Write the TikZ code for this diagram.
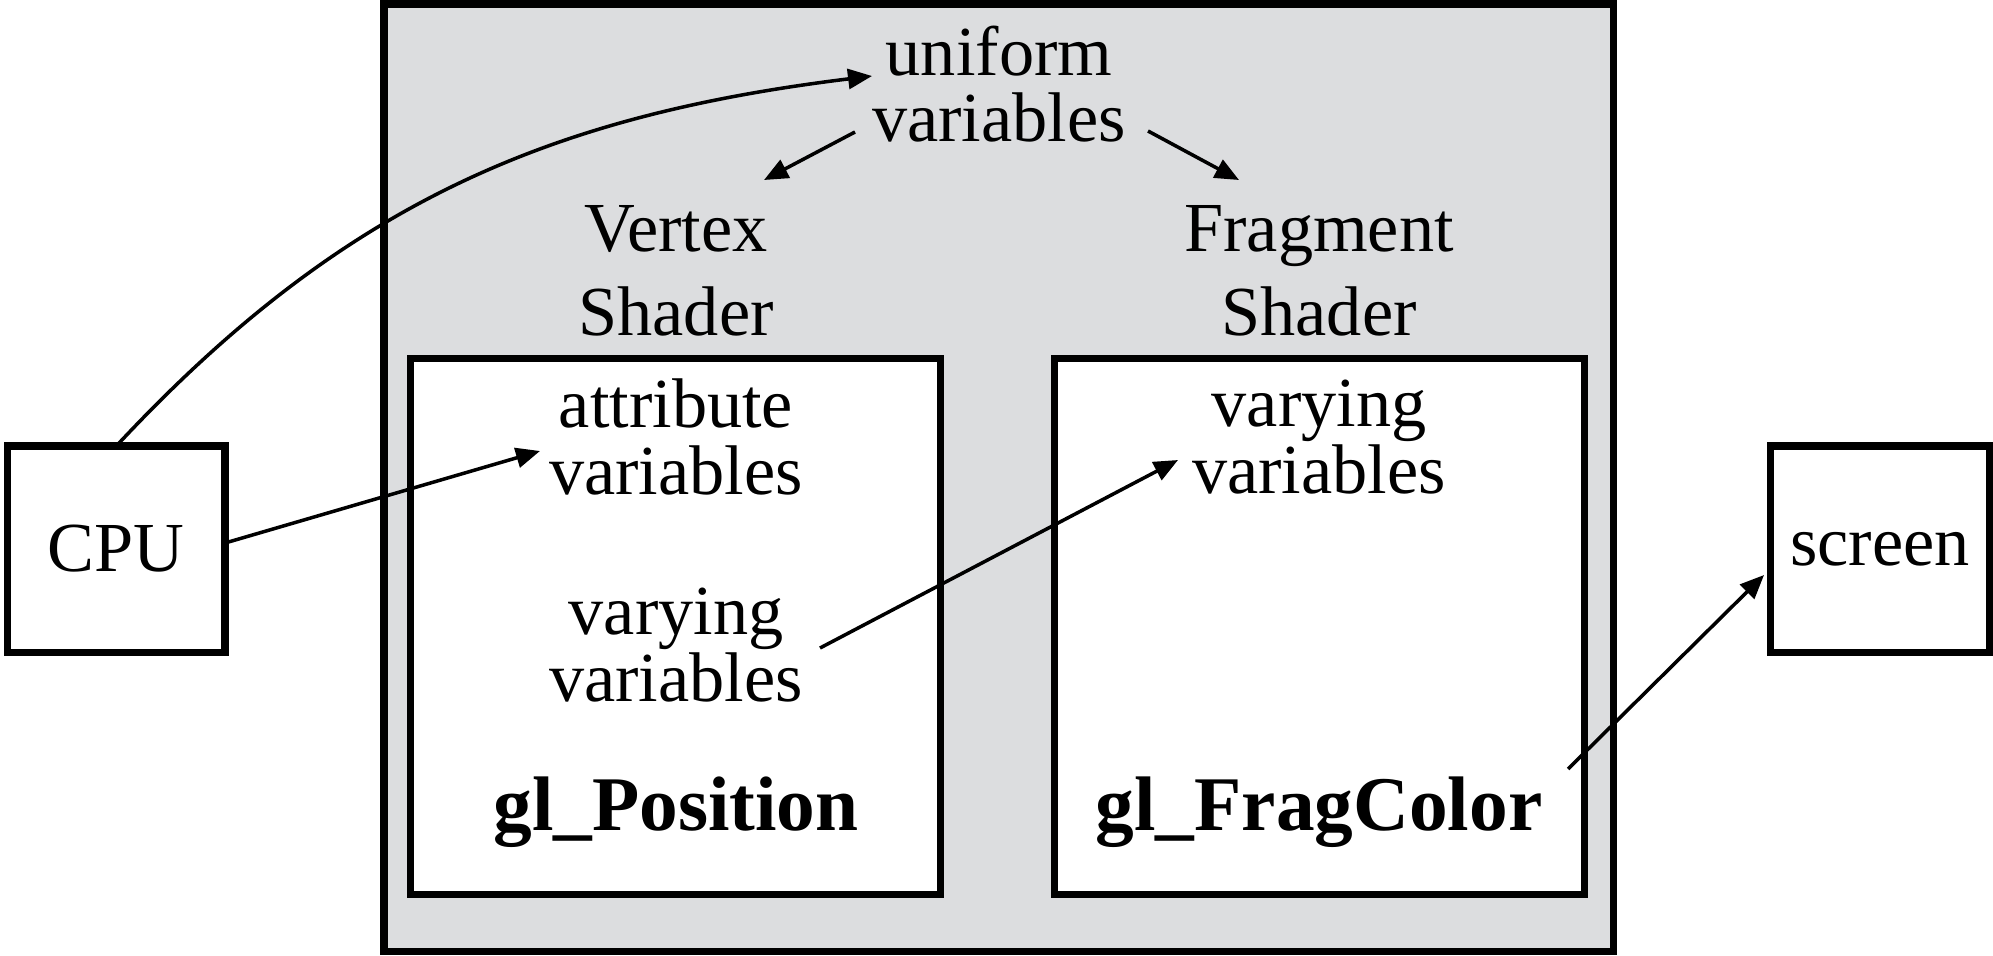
\documentclass[tikz,border=0pt]{standalone}
\usepackage{fontspec}
\setmainfont{Liberation Serif}
\usetikzlibrary{arrows.meta}
\definecolor{shadegray}{RGB}{220,221,223}
\begin{document}
\begin{tikzpicture}[x=1cm,y=1cm,
  box/.style={draw=black, line width=2pt, rectangle, inner sep=0pt, outer sep=0pt},
  lbl/.style={align=center, inner sep=0pt, font=\fontsize{20}{19}\selectfont},
  boldlbl/.style={inner sep=0pt, font=\fontsize{22}{22}\selectfont\bfseries},
  arr/.style={-{Triangle[length=2.4mm,width=2mm]}, line width=1pt},
]
\useasboundingbox (0,0) rectangle (19.93,-9.55);
% boxes
\node[box, fill=shadegray, minimum width=12.29cm, minimum height=9.47cm] (outer) at (9.985,-4.775) {};
\node[box, fill=white, minimum width=5.30cm, minimum height=5.364cm] (vbox) at (6.7555,-6.266) {};
\node[box, fill=white, minimum width=5.30cm, minimum height=5.364cm] (fbox) at (13.199,-6.266) {};
\node[box, fill=white, minimum width=2.174cm, minimum height=2.06cm, font=\fontsize{20}{19}\selectfont] (cpu) at (1.163,-5.49) {CPU};
\node[box, fill=white, minimum width=2.185cm, minimum height=2.06cm, font=\fontsize{20}{19}\selectfont] (scr) at (18.80,-5.49) {screen};
% labels
\node[lbl] (uni) at (9.99,-0.84) {uniform\\variables};
\node[lbl] (vs) at (6.76,-2.71) {Vertex\\[5pt]Shader};
\node[lbl] (fs) at (13.19,-2.71) {Fragment\\[5pt]Shader};
\node[lbl] (attr) at (6.76,-4.37) {attribute\\variables};
\node[lbl] (vl) at (6.76,-6.45) {varying\\variables};
\node[lbl] (vr) at (13.19,-4.37) {varying\\variables};
\node[boldlbl] (pos) at (6.76,-8.12) {gl\_Position};
\node[boldlbl] (fc) at (13.19,-8.12) {gl\_FragColor};
% connectors
\draw[arr] (cpu.north) to[out=47,in=187] ([shift={(-1.27,0.08)}]uni.center);
\draw[arr] ([shift={(-1.44,-0.48)}]uni.center) -- ([shift={(0.88,0.91)}]vs.center);
\draw[arr] ([shift={(1.49,-0.47)}]uni.center) -- ([shift={(-0.80,0.91)}]fs.center);
\draw[arr] ([yshift=0.06cm]cpu.east) -- ([shift={(-1.36,-0.14)}]attr.center);
\draw[arr] ([shift={(1.44,-0.03)}]vl.center) -- ([shift={(-1.41,-0.23)}]vr.center);
\draw[arr] ([shift={(2.49,0.43)}]fc.center) -- ([shift={(-1.16,-0.26)}]scr.center);
\end{tikzpicture}
\end{document}
